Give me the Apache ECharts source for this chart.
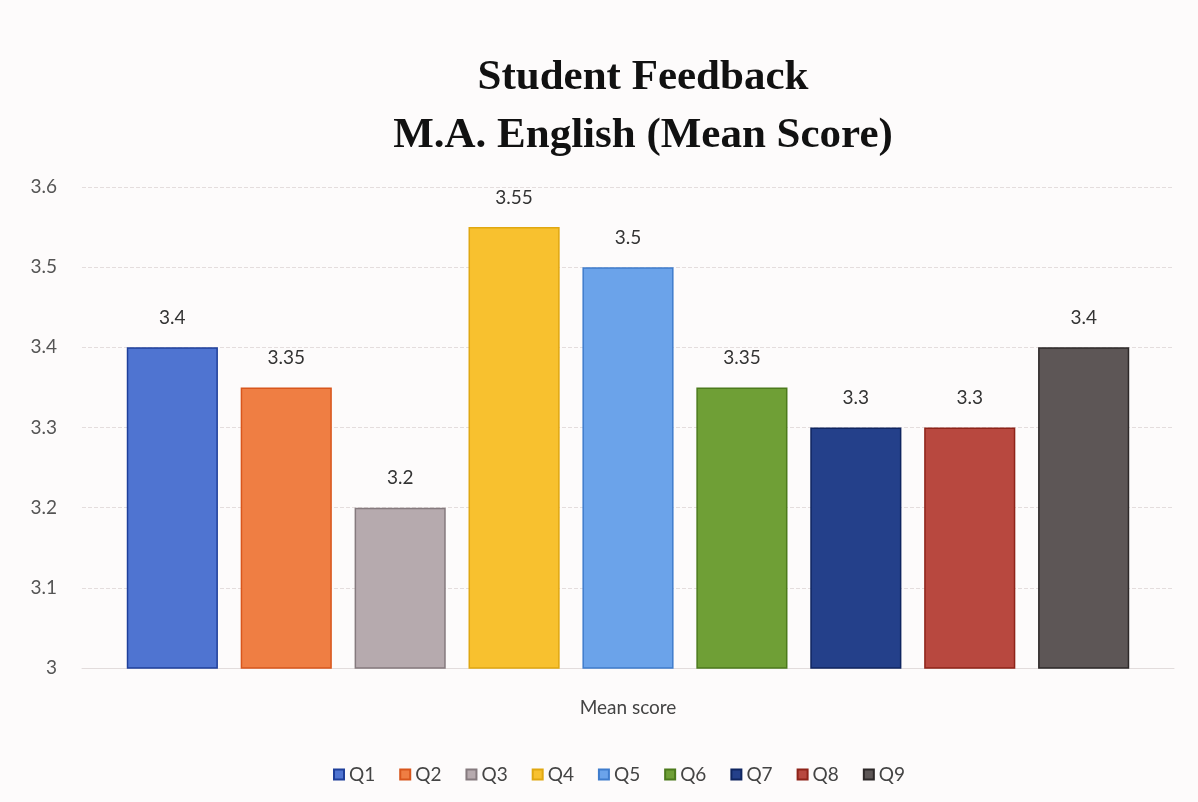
<!DOCTYPE html>
<html>
<head>
<meta charset="utf-8">
<script src="https://cdn.jsdelivr.net/npm/echarts@6/dist/echarts.min.js"></script>
<style>
  html, body { margin: 0; padding: 0; background: #fdfbfb; }
  #chart { width: 1198px; height: 802px; }
</style>
</head>
<body>
<div id="chart"></div>
<script>
// data
var categories = ['Mean score'];
var questions = ['Q1', 'Q2', 'Q3', 'Q4', 'Q5', 'Q6', 'Q7', 'Q8', 'Q9'];
var meanScores = [3.4, 3.35, 3.2, 3.55, 3.5, 3.35, 3.3, 3.3, 3.4];
var yTicks = [3, 3.1, 3.2, 3.3, 3.4, 3.5, 3.6];

var fills = ['#4f74d1', '#ef7e43', '#b6aaae', '#f8c12f', '#6ba3ea', '#6f9f36', '#24408a', '#b8483f', '#5d5656'];
var edges = ['#1f3f9a', '#d8561c', '#857a7e', '#e0a710', '#3f7ccc', '#4c7a1c', '#0f2560', '#8e2319', '#2d2828'];

var chart = echarts.init(document.getElementById('chart'));

var series = questions.map(function (q, i) {
	return {
		name: q,
		type: 'bar',
		data: [meanScores[i]],
		barGap: '25%',
		barCategoryGap: '8.2%',
		itemStyle: { color: fills[i], borderColor: edges[i], borderWidth: 1.5 },
		label: {
			show: true,
			position: 'top',
			distance: 20,
			fontFamily: 'Lato',
			fontSize: 19,
			color: '#333'
		}
	};
});

chart.setOption({
	backgroundColor: '#fdfbfb',
	color: fills,
	title: {
		text: 'Student Feedback\nM.A. English (Mean Score)',
		left: 638,
		top: 44,
		textAlign: 'center',
		textStyle: {
			fontFamily: 'Liberation Serif',
			fontWeight: 'bold',
			fontSize: 43,
			lineHeight: 58,
			color: '#111'
		}
	},
	grid: { left: 82, right: 24, top: 187, bottom: 134 },
	legend: {
		data: questions,
		left: 328,
		top: 760,
		itemWidth: 10,
		itemHeight: 10,
		itemGap: 24,
		icon: 'rect',
		textStyle: { fontFamily: 'Lato', fontSize: 19, color: '#444' }
	},
	xAxis: {
		type: 'category',
		data: categories,
		axisLine: { show: true, lineStyle: { color: '#e2dcdc' } },
		axisTick: { show: false },
		axisLabel: { margin: 30, fontFamily: 'Lato', fontSize: 19, color: '#444' }
	},
	yAxis: {
		type: 'value',
		min: yTicks[0],
		max: yTicks[yTicks.length - 1],
		interval: 0.1,
		axisLine: { show: false },
		axisTick: { show: false },
		axisLabel: {
			margin: 25,
			fontFamily: 'Lato',
			fontSize: 19,
			color: '#555',
			formatter: function (v) { return String(Math.round(v * 10) / 10); }
		},
		splitLine: { lineStyle: { color: '#e4dddd', type: 'dashed' } }
	},
	series: series
});
</script>
</body>
</html>
